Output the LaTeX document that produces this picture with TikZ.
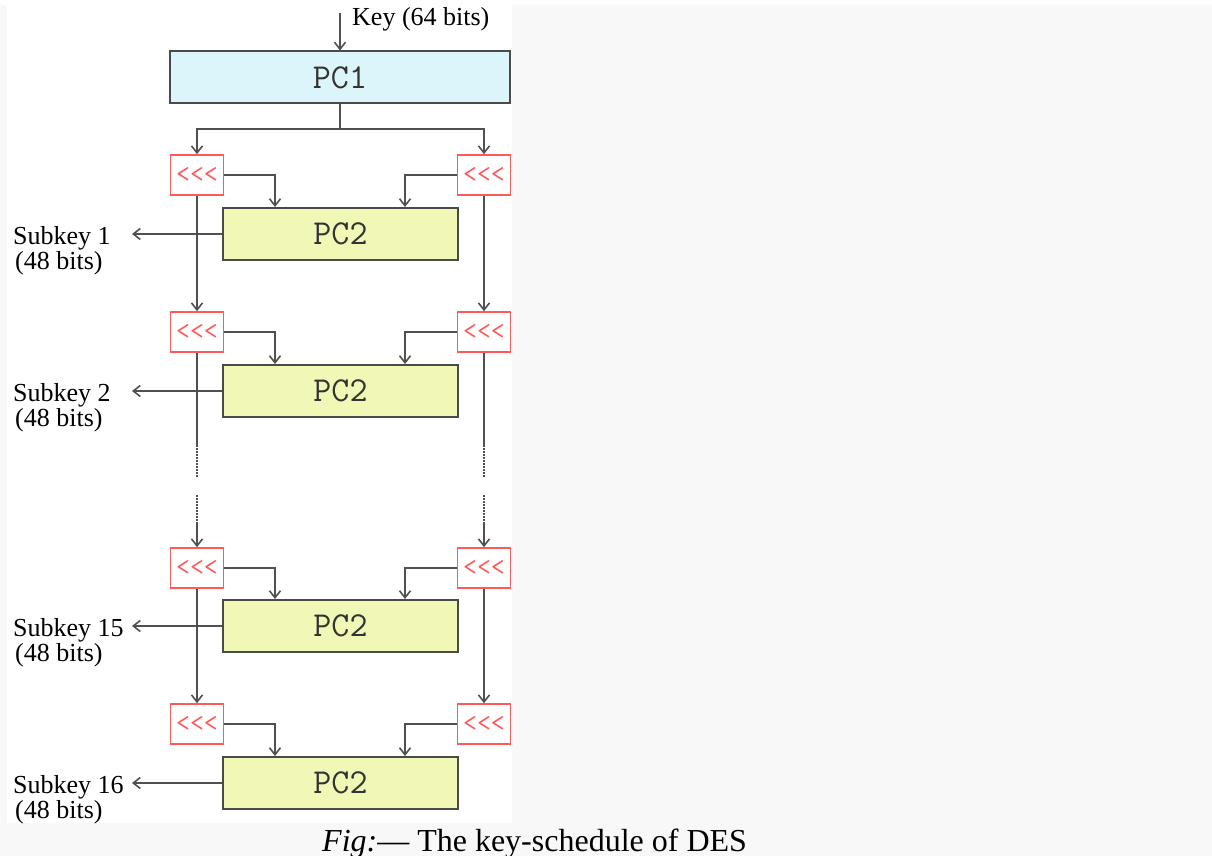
\documentclass[tikz,border=0pt]{standalone}
\usepackage{fontspec}
\setmainfont{Liberation Serif}
\usetikzlibrary{arrows.meta}
\definecolor{pageg}{HTML}{F8F8F8}
\definecolor{lineg}{HTML}{505050}
\definecolor{boxg}{HTML}{4A4A4A}
\definecolor{pcone}{HTML}{DBF5FA}
\definecolor{pctwo}{HTML}{F1F8B6}
\definecolor{shiftred}{HTML}{FF5A5A}
\definecolor{pctext}{HTML}{333333}
\tikzset{
  pcbox/.style={draw=boxg, line width=2pt, inner sep=0pt, minimum height=52pt,
    font=\ttfamily\fontsize{35}{35}\selectfont, text=pctext},
  shiftbox/.style={draw=shiftred, fill=white, line width=1.6pt, inner sep=0pt,
    minimum width=53pt, minimum height=40pt,
    font=\ttfamily\fontsize{27}{27}\selectfont, text=shiftred},
  conn/.style={draw=lineg, line width=1.6pt},
  arr/.style={conn, -{Straight Barb[length=7pt,width=11pt,line width=1.6pt]}},
  dotl/.style={draw=lineg, line width=1.6pt, dash pattern=on 1.5pt off 1.5pt},
  lbl/.style={font=\fontsize{26}{26}\selectfont, inner sep=0pt, align=left},
}
\begin{document}
\begin{tikzpicture}[x=1pt,y=-1pt]
\useasboundingbox (0,0) rectangle (1212,856);
\fill[pageg] (0,5) rectangle (1212,856);
\fill[white] (0,0) rectangle (1212,5);
\fill[white] (7,5) rectangle (512,823);

% PC1
\node[pcbox, fill=pcone, minimum width=340pt] (pcA) at (340,77.5) {PC1};
\coordinate (keyin) at (340,13);
\draw[arr] (keyin) -- (pcA.north);
\node[lbl, anchor=base west] (keylbl) at (352,26) {Key (64 bits)};

% split
\coordinate (split) at (340,129);

% rows
\foreach \r/\sy/\py/\lab in {1/175/234/{Subkey 1}, 2/332/391/{Subkey 2}, 15/568/626/{Subkey 15}, 16/724/783/{Subkey 16}} {
  \node[shiftbox] (sl\r) at (197,\sy) {<{}<{}<};
  \node[shiftbox] (sr\r) at (484,\sy) {<{}<{}<};
  \node[pcbox, fill=pctwo, minimum width=235pt] (pcb\r) at (340.5,\py) {PC2};
  \coordinate (kl\r) at (275,\sy);
  \coordinate (kr\r) at (405,\sy);
  \draw[arr] (sl\r.east) -- (kl\r) -- (kl\r |- pcb\r.north);
  \draw[arr] (sr\r.west) -- (kr\r) -- (kr\r |- pcb\r.north);
  \coordinate (ko\r) at (132,\py);
  \draw[arr] (pcb\r.west) -- (ko\r);
  \node[lbl, anchor=north west] (sk\r) at (13,\py-8) {\lab\\[-1pt]\hspace*{2pt}(48 bits)};
}

% from PC1 to first shifts
\draw[conn] (pcA.south) -- (split);
\draw[arr] (split) -- (split -| sl1.north) -- (sl1.north);
\draw[arr] (split) -- (split -| sr1.north) -- (sr1.north);

% row 1 -> row 2
\draw[arr] (sl1.south) -- (sl2.north);
\draw[arr] (sr1.south) -- (sr2.north);
% row 15 -> row 16
\draw[arr] (sl15.south) -- (sl16.north);
\draw[arr] (sr15.south) -- (sr16.north);

% row 2 -> row 15 with dotted gap
\coordinate (la) at (197,445);
\coordinate (lb) at (197,477);
\coordinate (lc) at (197,495);
\coordinate (ld) at (197,522);
\coordinate (ra) at (484,445);
\coordinate (rb) at (484,477);
\coordinate (rc) at (484,495);
\coordinate (rd) at (484,522);
\draw[conn] (sl2.south) -- (la);
\draw[dotl] (la) -- (lb);
\draw[dotl] (lc) -- (ld);
\draw[arr] (ld) -- (sl15.north);
\draw[conn] (sr2.south) -- (ra);
\draw[dotl] (ra) -- (rb);
\draw[dotl] (rc) -- (rd);
\draw[arr] (rd) -- (sr15.north);

% caption
\node[font=\fontsize{32}{32}\selectfont, inner sep=0pt, anchor=base west] (cap) at (322,851) {\textit{Fig:}— The key-schedule of DES};
\end{tikzpicture}
\end{document}
